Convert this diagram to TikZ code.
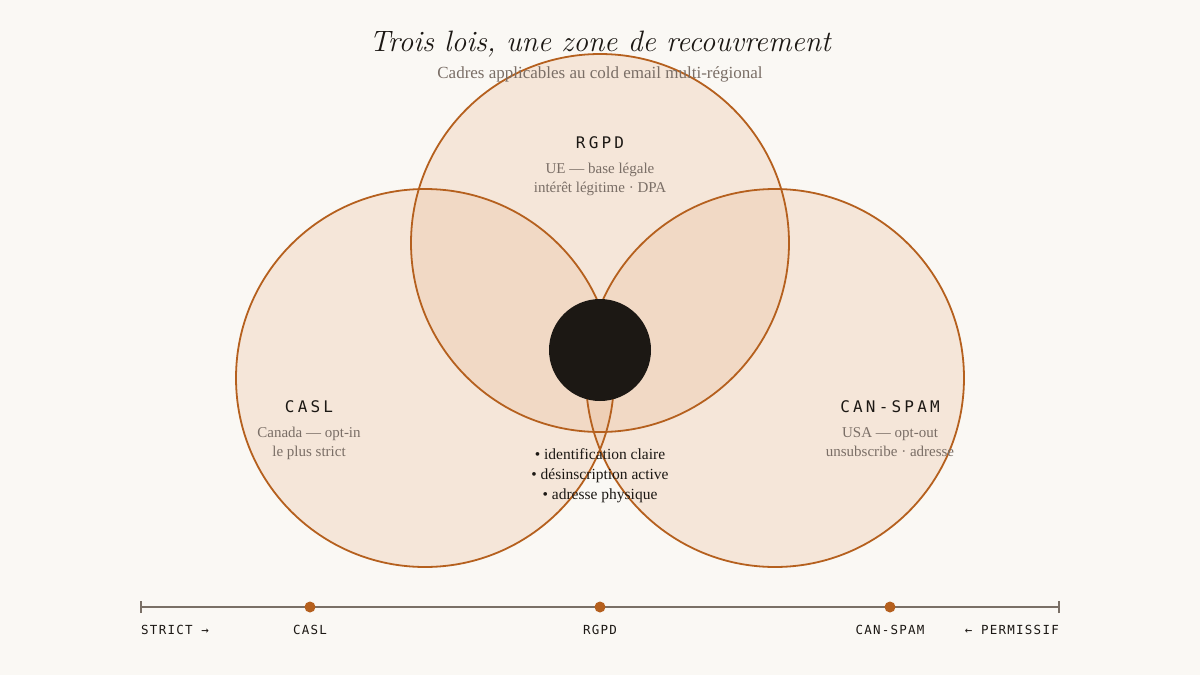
\documentclass[tikz,border=0pt]{standalone}
\usepackage{fontspec}
\setmainfont{Liberation Serif}
\newfontfamily\titlefont{Latin Modern Roman}
\newfontfamily\monof[LetterSpace=20]{DejaVu Sans Mono}
\newfontfamily\monos[LetterSpace=10]{DejaVu Sans Mono}
\definecolor{bg}{HTML}{FAF8F4}
\definecolor{rust}{HTML}{B5601E}
\definecolor{fillc}{HTML}{E8B48A}
\definecolor{ink}{HTML}{1C1814}
\definecolor{muted}{HTML}{7A6E66}
\definecolor{axis}{HTML}{7A7066}
\tikzset{
  venn/.style={circle, minimum size=378pt, inner sep=0pt},
  vennfill/.style={fill=fillc, fill opacity=0.25},
  vennline/.style={draw=rust, line width=1.8pt},
  head/.style={font=\monof\fontsize{16}{18}\selectfont, text=ink, anchor=base},
  sub/.style={font=\fontsize{15}{19}\selectfont, text=muted, anchor=base},
  bullet/.style={font=\fontsize{15.5}{19}\selectfont, text=ink, anchor=base},
  axlab/.style={font=\monos\fontsize{12.5}{14}\selectfont, text=ink, anchor=base, inner sep=0pt},
  dot/.style={circle, fill=rust, minimum size=11pt, inner sep=0pt},
}
\begin{document}
\begin{tikzpicture}[x=1pt,y=-1pt]
\fill[bg] (0,0) rectangle (1200,675);
\useasboundingbox (0,0) rectangle (1200,675);
% circle fills
\fill[vennfill] (600,243) circle (189);
\fill[vennfill] (425,378) circle (189);
\fill[vennfill] (775,378) circle (189);
% circle outlines as named nodes
\node[venn, vennline] (rgpd) at (600,243) {};
\node[venn, vennline] (casl) at (425,378) {};
\node[venn, vennline] (can) at (775,378) {};
% core
\node[circle, fill=ink, minimum size=102pt, inner sep=0pt] (core) at (600,350) {};
% title
\node[font=\titlefont\itshape\fontsize{29.5}{34}\selectfont, text=ink, anchor=base] (title) at (600,51) {Trois lois, une zone de recouvrement};
\node[font=\fontsize{17}{20}\selectfont, text=muted, anchor=base] (subtitle) at (600,78) {Cadres applicables au cold email multi-régional};
% RGPD labels
\node[head] (rgpdh) at (600,148) {RGPD};
\node[sub] (rgpd1) at (600,173) {UE — base légale};
\node[sub] (rgpd2) at (600,192) {intérêt légitime · DPA};
% CASL labels
\node[head] (caslh) at (309,412) {CASL};
\node[sub] (casl1) at (309,437) {Canada — opt-in};
\node[sub] (casl2) at (309,456) {le plus strict};
% CAN-SPAM labels
\node[head] (canh) at (890,412) {CAN-SPAM};
\node[sub] (can1) at (890,437) {USA — opt-out};
\node[sub] (can2) at (890,456) {unsubscribe · adresse};
% bullets
\node[bullet] (b1) at (600,459) {• identification claire};
\node[bullet] (b2) at (600,479) {• désinscription active};
\node[bullet] (b3) at (600,499) {• adresse physique};
% axis
\coordinate (axl) at (141,607);
\coordinate (axr) at (1059,607);
\draw[axis, line width=1.3pt] (axl) -- (axr);
\draw[axis, line width=1.3pt] ([yshift=-6]axl) -- ([yshift=6]axl);
\draw[axis, line width=1.3pt] ([yshift=-6]axr) -- ([yshift=6]axr);
\node[dot] (d1) at (310,607) {};
\node[dot] (d2) at (600,607) {};
\node[dot] (d3) at (890,607) {};
\node[axlab, anchor=base west] (strict) at (141,634) {STRICT →};
\node[axlab] (l1) at (310,634) {CASL};
\node[axlab] (l2) at (600,634) {RGPD};
\node[axlab] (l3) at (890,634) {CAN-SPAM};
\node[axlab, anchor=base east] (perm) at (1059,634) {← PERMISSIF};
\end{tikzpicture}
\end{document}
